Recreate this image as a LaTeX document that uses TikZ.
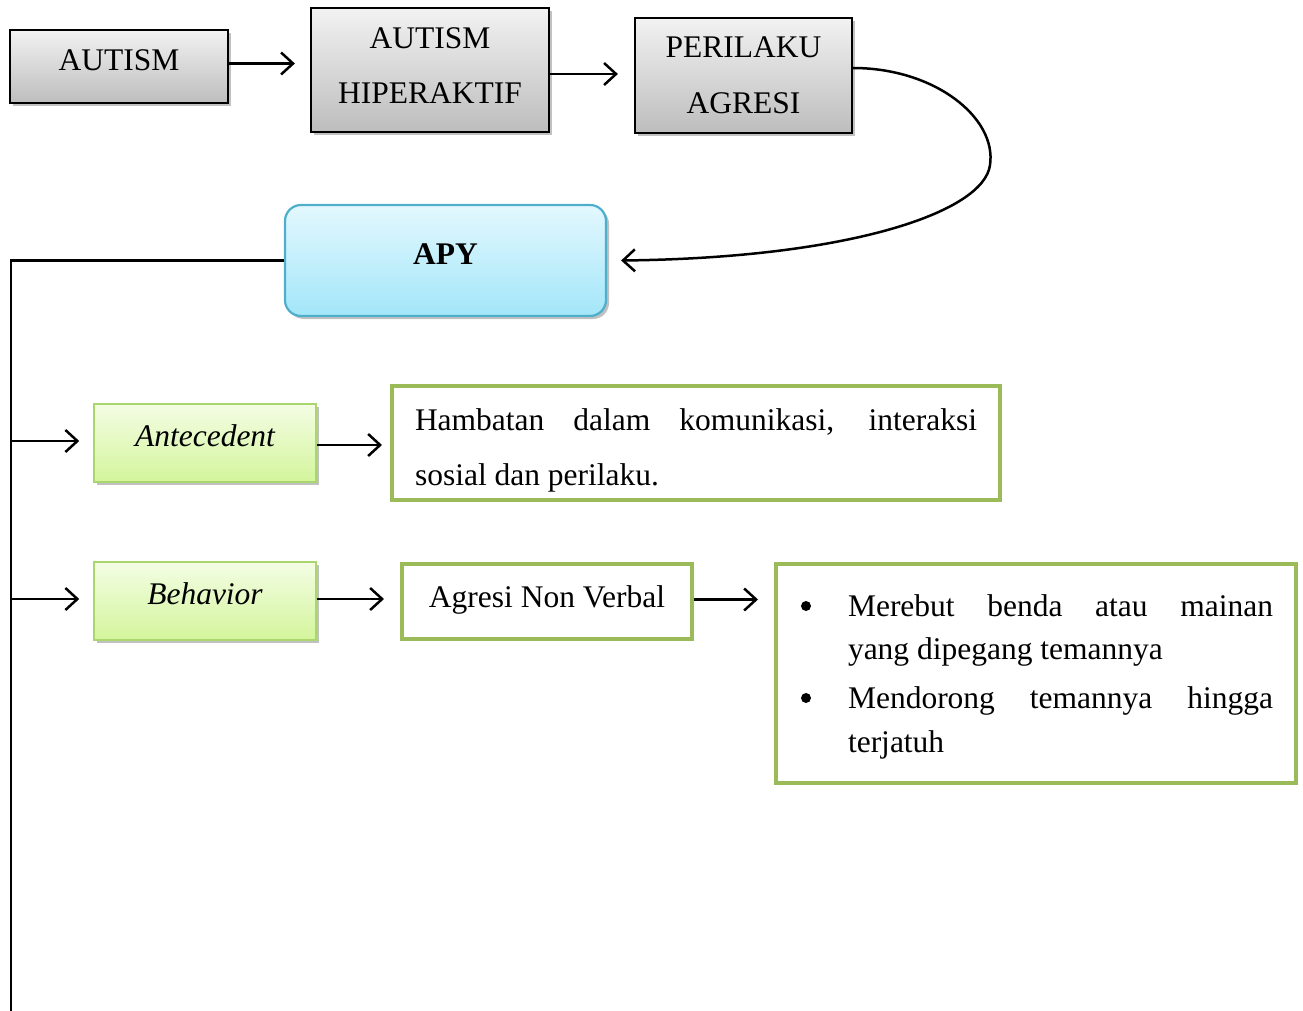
\documentclass[tikz,border=0pt]{standalone}
\usepackage{fontspec}
\setmainfont{Liberation Serif}
\usetikzlibrary{arrows.meta,shadows}
\definecolor{grtop}{HTML}{F2F2F2}
\definecolor{grbot}{HTML}{BDBDBD}
\definecolor{cytop}{HTML}{E3F8FE}
\definecolor{cybot}{HTML}{A3E6F9}
\definecolor{cyline}{HTML}{4FAFCA}
\definecolor{lgtop}{HTML}{F4FDE4}
\definecolor{lgbot}{HTML}{D3F59C}
\definecolor{lgline}{HTML}{A9D66D}
\definecolor{olive}{HTML}{9BBB59}
\begin{document}
\begin{tikzpicture}[x=1pt,y=-1pt,
  txt/.style={font=\fontsize{31.5}{38}\selectfont, inner sep=0pt, outer sep=0pt, anchor=base},
  txtw/.style={txt, anchor=base west},
  shad/.style={drop shadow={shadow xshift=3pt, shadow yshift=-3pt, opacity=0.35, fill=black!70}},
  graybox/.style={draw=black, line width=2.2pt, top color=grtop, bottom color=grbot, shad, inner sep=0pt},
  apybox/.style={draw=cyline, line width=2.2pt, top color=cytop, bottom color=cybot, rounded corners=16pt, shad, inner sep=0pt},
  lgbox/.style={draw=lgline, line width=1.5pt, top color=lgtop, bottom color=lgbot, shad, inner sep=0pt},
  olbox/.style={draw=olive, line width=4pt, fill=white, inner sep=0pt},
  bul/.style={circle, fill=black, inner sep=0pt, minimum size=10pt},
  conn/.style={draw=black, line width=2.5pt},
  arr/.style={conn, -{Straight Barb[length=12pt,width=22pt]}}
]
\useasboundingbox (0,0) rectangle (1303,1011);

% top row
\node[graybox, minimum width=218pt, minimum height=73pt] (autism) at (119,66.5) {};
\node[txt] (tautism) at (119,71) {AUTISM};
\node[graybox, minimum width=238pt, minimum height=124pt] (hiper) at (430,70) {};
\node[txt] (thiper1) at (430,49) {AUTISM};
\node[txt] (thiper2) at (430,104) {HIPERAKTIF};
\node[graybox, minimum width=217pt, minimum height=115pt] (peri) at (743.5,75.5) {};
\node[txt] (tperi1) at (743.5,58) {PERILAKU};
\node[txt] (tperi2) at (743.5,114) {AGRESI};

\draw[arr, shorten >=15pt] ([yshift=3pt]autism.east) -- ([yshift=3pt]autism.east -| hiper.west);
\draw[arr, shorten >=16pt] ([yshift=-4pt]hiper.west -| hiper.east) -- ([yshift=-4pt]hiper.west -| peri.west);

% APY
\node[apybox, minimum width=321pt, minimum height=111pt] (apy) at (445.5,260.5) {};
\node[txt, font=\fontsize{31.5}{38}\selectfont\bfseries] (tapy) at (445.5,264) {APY};
\draw[arr] ([yshift=7.5pt]peri.east) .. controls (935,68) and (997,118) .. (990,165)
  .. controls (984,212) and (850,258) .. ([xshift=14pt]apy.east);

% left spine
\coordinate (vtop) at (11,260.5);
\coordinate (vbot) at (11,1011);
\draw[conn] (apy.west) -- (vtop) -- (vbot);

% Antecedent row
\node[lgbox, minimum width=222pt, minimum height=78pt] (ante) at (205,443) {};
\node[txt, font=\fontsize{31.5}{38}\selectfont\itshape] (tante) at (205,446) {Antecedent};
\node[olbox, minimum width=608pt, minimum height=114pt] (hamb) at (696,443) {};
\node[txtw] (thamb1) at (415,430) {\makebox[562pt][s]{Hambatan dalam komunikasi, interaksi}};
\node[txtw] (thamb2) at (415,485) {sosial dan perilaku.};
\draw[arr, shorten >=14pt] ([yshift=2pt]vtop |- ante.west) -- ([yshift=2pt]ante.west);
\draw[arr, shorten >=8pt] ([yshift=-2pt]ante.east) -- ([yshift=-2pt]hamb.west);

% Behavior row
\node[lgbox, minimum width=222pt, minimum height=78pt] (behav) at (205,601) {};
\node[txt, font=\fontsize{31.5}{38}\selectfont\itshape] (tbehav) at (205,604) {Behavior};
\node[olbox, minimum width=290pt, minimum height=75pt] (agr) at (547,601.5) {};
\node[txt] (tagr) at (547,607) {Agresi Non Verbal};
\node[olbox, minimum width=520pt, minimum height=219pt] (list) at (1036,673.5) {};
\node[bul] (b1) at (806,606) {};
\node[txtw] (l1) at (848,616) {\makebox[425pt][s]{Merebut benda atau mainan}};
\node[txtw] (l2) at (848,659) {yang dipegang temannya};
\node[bul] (b2) at (806,698) {};
\node[txtw] (l3) at (848,708) {\makebox[425pt][s]{Mendorong temannya hingga}};
\node[txtw] (l4) at (848,752) {terjatuh};
\draw[arr, shorten >=14pt] ([yshift=2pt]vtop |- behav.west) -- ([yshift=2pt]behav.west);
\draw[arr, shorten >=16pt] ([yshift=2pt]behav.east) -- ([yshift=2pt]behav.east -| agr.west);
\draw[arr, shorten >=16pt] ([yshift=2pt]agr.east) -- ([yshift=2pt]agr.east -| list.west);
\end{tikzpicture}
\end{document}
